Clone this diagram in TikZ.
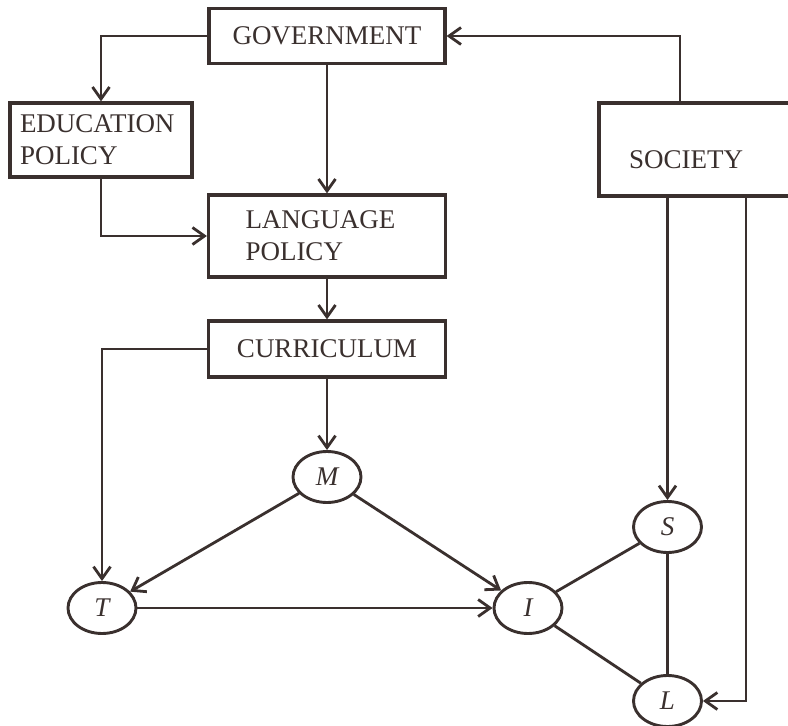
\documentclass[tikz,border=0pt]{standalone}
\usepackage{fontspec}
\setmainfont{Liberation Serif}
\usepackage{tikz}
\usepackage{xcolor}
\usetikzlibrary{arrows.meta,shapes.geometric}
\definecolor{inkcolor}{HTML}{3A302E}
\tikzstyle{plainbox} = [
    draw=inkcolor,
    line width=3.2pt,
    rectangle,
    text=inkcolor,
    font=\fontsize{27}{32}\selectfont,
    inner sep=0pt
    ]
\tikzstyle{varnode} = [
    draw=inkcolor,
    line width=2.9pt,
    ellipse,
    inner sep=0pt,
    minimum width=68pt,
    minimum height=51pt,
    text=inkcolor,
    font=\fontsize{27}{30}\selectfont\itshape
    ]
\tikzstyle{link} = [
    draw=inkcolor,
    line width=2.8pt
    ]
\tikzstyle{flow} = [
    link,
    -{Straight Barb[length=12pt,width=17pt]}
    ]

\begin{document}
\begin{tikzpicture}[x=1pt,y=-1pt]
\useasboundingbox[fill=white] (0,0) rectangle (788,726);
% boxes
\node[plainbox, minimum width=236pt, minimum height=55pt] (gov) at (327,36) {GOVERNMENT};
\node[plainbox, text width=162pt, inner xsep=10pt, align=left, minimum height=74pt] (edu) at (101,140) {EDUCATION\\POLICY};
\node[plainbox, text width=163pt, inner xsep=37pt, align=left, minimum height=82pt] (lang) at (327,236) {LANGUAGE\\POLICY};
\node[plainbox, minimum width=237pt, minimum height=56pt] (cur) at (327,349) {CURRICULUM};
\node[plainbox, text width=151pt, inner xsep=30pt, align=left, minimum height=93pt, text height=38pt] (soc) at (704.5,149.5) {SOCIETY};
% variables
\node[varnode] (M) at (327,477) {M};
\node[varnode] (T) at (102,608) {T};
\node[varnode] (I) at (528,608) {I};
\node[varnode] (S) at (667.5,527) {S};
\node[varnode] (L) at (667.5,701) {L};

\draw[flow] (gov.west) -| (edu.north);
\draw[flow] (gov) -- (lang);
\draw[flow] (edu.south) |- (lang.west);
\draw[flow] ([xshift=-24.5pt]soc.north) |- (gov.east);
\draw[flow] (lang) -- (cur);
\draw[flow] (cur) -- (M);
\draw[flow] (cur.west) -| (T);
\draw[flow] (M) -- (T);
\draw[flow] (M) -- (I);
\draw[flow] (T) -- (I);
\draw[flow] (S |- soc.south) -- (S);
\draw[flow] ([xshift=41.5pt]soc.south) |- (L);
\draw[link] (I) -- (S);
\draw[link] (I) -- (L);
\draw[link] (S) -- (L);
\end{tikzpicture}
\end{document}
